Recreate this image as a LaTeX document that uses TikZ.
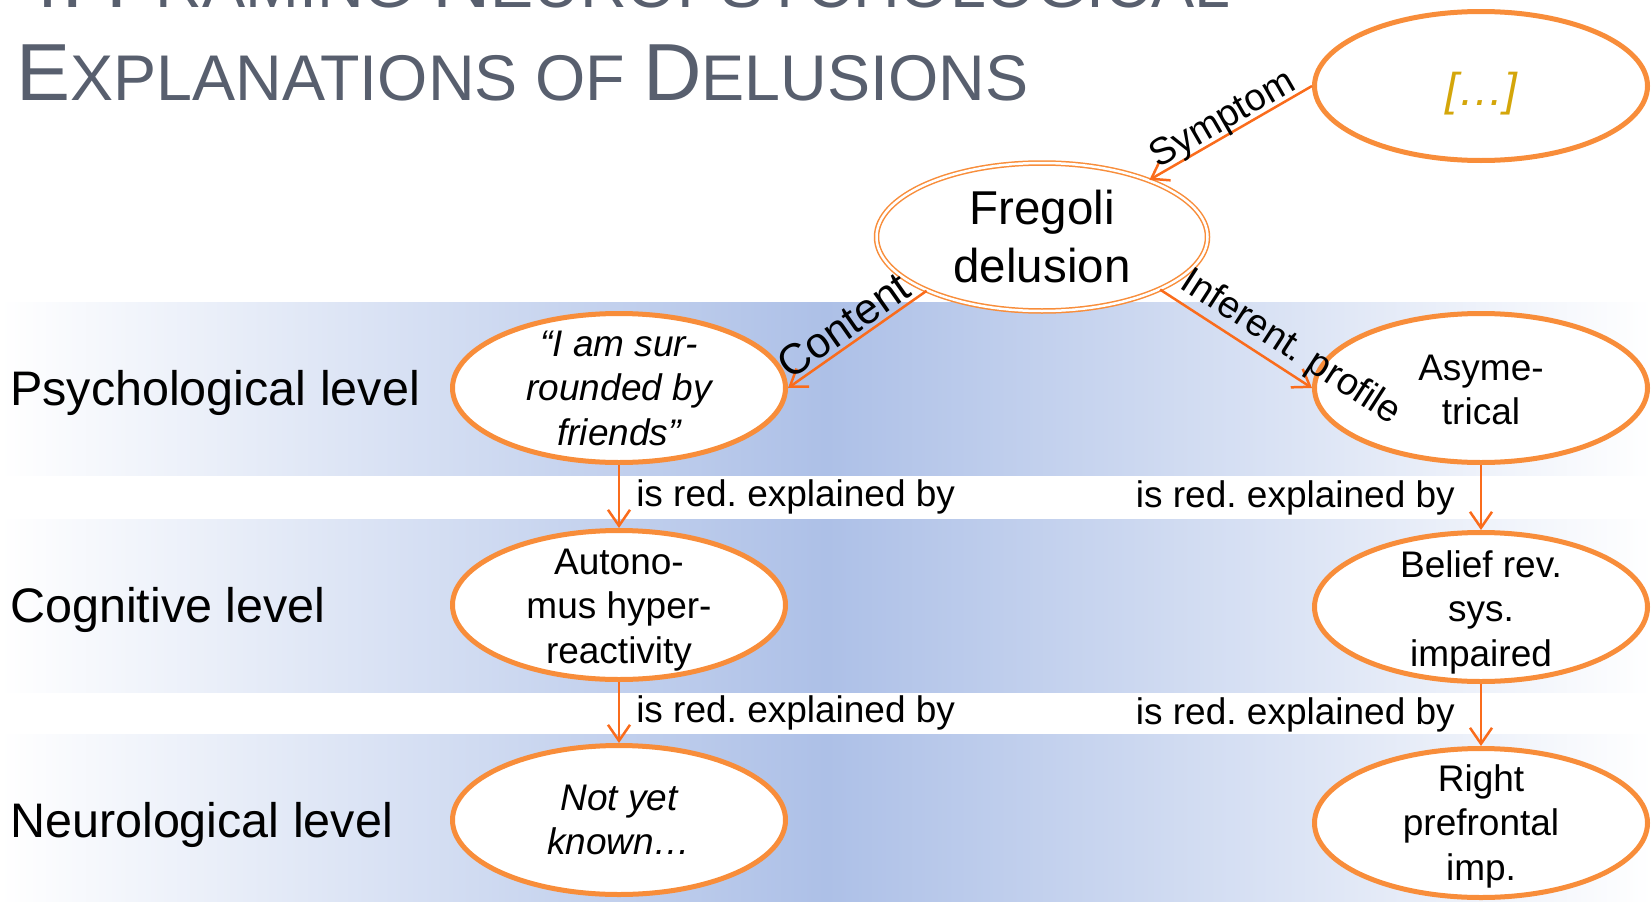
\documentclass[tikz,border=0pt]{standalone}
\usepackage{fontspec}
\setmainfont{Liberation Sans}
\usetikzlibrary{shapes.geometric,arrows.meta}
\frenchspacing

\definecolor{bandblue}{RGB}{173,192,231}
\definecolor{ellorange}{RGB}{248,141,58}
\definecolor{lineorange}{RGB}{250,108,28}
\definecolor{titlegray}{RGB}{88,95,110}
\definecolor{dotsgold}{RGB}{212,166,10}

% faux small caps for the slide title
\newcommand\tbig[1]{{\fontsize{81}{81}\selectfont #1}}
\newcommand\tsmall[1]{{\fontsize{64.6}{64.6}\selectfont #1}}

\tikzset{
  band/.style={left color=white, right color=white, middle color=bandblue},
  ell/.style={ellipse, draw=ellorange, line width=5pt, fill=white,
    minimum width=333pt, minimum height=149pt, inner sep=0pt},
  fregell/.style={ellipse, draw=ellorange, line width=1.5pt, double=white,
    double distance=2.5pt, fill=white,
    minimum width=331pt, minimum height=148pt, inner sep=0pt},
  ntext/.style={align=center, inner sep=0pt, font=\fontsize{37}{44.5}\selectfont},
  conn/.style={draw=lineorange, line width=2.5pt,
    -{Straight Barb[length=16pt,width=22pt]}},
  elabel/.style={font=\fontsize{38}{38}\selectfont, inner sep=3pt, sloped},
  redby/.style={font=\fontsize{37}{37}\selectfont, inner sep=0pt},
  lvl/.style={anchor=base west, inner sep=0pt, font=\fontsize{48.5}{58}\selectfont},
  titletext/.style={anchor=base west, inner sep=0pt, text=titlegray},
}

\begin{document}
\begin{tikzpicture}[x=1pt, y=-1pt]
\useasboundingbox (0,0) rectangle (1652,902);

% level bands
\shade[band] (0,302) rectangle (1652,475);
\shade[band] (0,519) rectangle (1652,692);
\shade[band] (0,734) rectangle (1652,902);

% title
\begin{scope}
\clip (0,0) rectangle (1652,902);
\node[titletext] (title1) at (16,7)
  {\tbig{4. F}\tsmall{RAMING }\tbig{N}\tsmall{EUROPSYCHOLOGICAL}};
\end{scope}
\node[titletext] (title2) at (16,100)
  {\tbig{E}\tsmall{XPLANATIONS OF }\tbig{D}\tsmall{ELUSIONS}};

% level names
\node[lvl] (lpsy) at (10,405) {Psychological level};
\node[lvl] (lcog) at (10,622) {Cognitive level};
\node[lvl] (lneu) at (10,837) {Neurological level};

% ellipses
\node[ell] (dots) at (1481,86) {};
\node[fregell] (freg) at (1042,237) {};
\node[ell] (psych) at (619,388) {};
\node[ell] (asym) at (1481,388) {};
\node[ell] (cogl) at (619,605) {};
\node[ell] (cogr) at (1481,607) {};
\node[ell] (neul) at (619,820) {};
\node[ell] (neur) at (1481,823) {};

% ellipse texts
\node[ntext, text=dotsgold, font=\fontsize{46}{46}\selectfont\itshape] (tdots) at (1481,94) {[…]};
\node[ntext, font=\fontsize{47.5}{58}\selectfont] (tfreg) at (freg) {Fregoli\\delusion};
\node[ntext, font=\fontsize{37}{44.5}\selectfont\itshape] (tpsych) at (psych) {“I am sur-\\rounded by\\friends”};
\node[ntext] (tasym) at ([yshift=-2pt]asym.center) {Asyme-\\trical};
\node[ntext] (tcogl) at ([yshift=-5pt]cogl.center) {Autono-\\mus hyper-\\reactivity};
\node[ntext] (tcogr) at ([yshift=-5pt]cogr.center) {Belief rev.\\sys.\\impaired};
\node[ntext, font=\fontsize{37}{44.5}\selectfont\itshape] (tneul) at (neul) {Not yet\\known…};
\node[ntext] (tneur) at ([yshift=-3pt]neur.center) {Right\\prefrontal\\imp.};

% connectors between levels
\draw[conn] (dots.west) -- node[elabel, above, pos=0.5, inner sep=-4pt] (esym) {Symptom} (freg.28);
\draw[conn] (freg.205) -- node[elabel, above, pos=0.52, font=\fontsize{43}{43}\selectfont] (econ) {Content} (psych.east);
\draw[conn] (freg.-24) -- node[elabel, above, pos=0.78] (einf) {Inferent. profile} (asym.west);

\draw[conn] (psych.south) -- node[redby, right, xshift=16pt] (r1) {is red. explained by} (cogl.north);
\draw[conn] (asym.south) -- node[redby, left, xshift=-25pt] (r2) {is red. explained by} (cogr.north);
\draw[conn] (cogl.south) -- node[redby, right, xshift=16pt] (r3) {is red. explained by} (neul.north);
\draw[conn] (cogr.south) -- node[redby, left, xshift=-25pt] (r4) {is red. explained by} (neur.north);
\end{tikzpicture}
\end{document}
